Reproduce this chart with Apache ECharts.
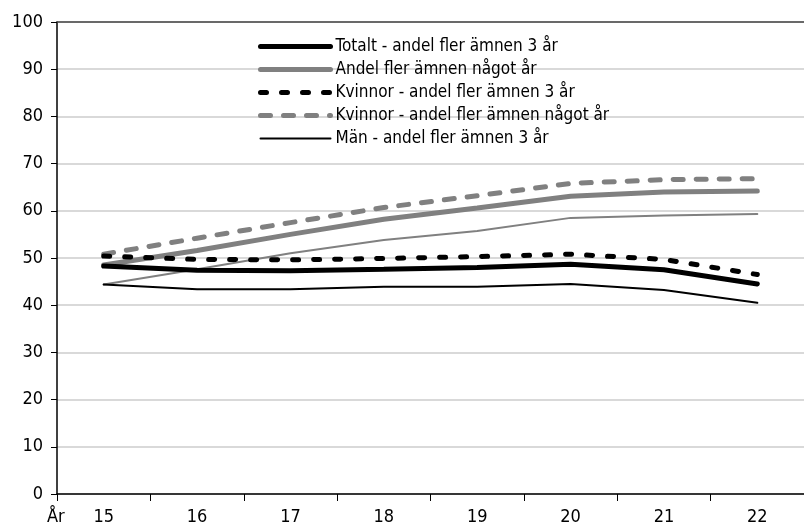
<!DOCTYPE html>
<html>
<head>
<meta charset="utf-8">
<script src="https://cdn.jsdelivr.net/npm/echarts@6/dist/echarts.min.js"></script>
<style>html,body{margin:0;padding:0;background:#fff}#c{width:804px;height:531px}</style>
</head>
<body>
<div id="c"></div>
<script>
var categories = ['15','16','17','18','19','20','21','22'];
var totalt3 = [48.3, 47.4, 47.3, 47.6, 48.0, 48.7, 47.5, 44.5];
var andelNagot = [48.5, 51.6, 55.0, 58.2, 60.6, 63.1, 64.0, 64.2];
var kvinnor3 = [50.4, 49.7, 49.6, 49.9, 50.3, 50.8, 49.7, 46.5];
var kvinnorNagot = [50.8, 54.2, 57.5, 60.7, 63.2, 65.8, 66.6, 66.8];
var man3 = [44.4, 43.4, 43.4, 43.9, 43.9, 44.5, 43.2, 40.5];
var manNagot = [44.4, 47.6, 51.0, 53.8, 55.7, 58.5, 59.0, 59.3];
var names = ['Totalt - andel fler ämnen 3 år','Andel fler ämnen något år','Kvinnor - andel fler ämnen 3 år','Kvinnor - andel fler ämnen något år','Män - andel fler ämnen 3 år','Män - andel fler ämnen något år'];

var FONT = '"DejaVu Sans Condensed","Liberation Sans Narrow",sans-serif';
var styles = {};
styles[names[0]] = {color:'#000', width:5, type:'solid'};
styles[names[1]] = {color:'#808080', width:5, type:'solid'};
styles[names[2]] = {color:'#000', width:5, type:[6,15]};
styles[names[3]] = {color:'#808080', width:5, type:[10,13]};
styles[names[4]] = {color:'#000', width:2, type:'solid'};
styles[names[5]] = {color:'#808080', width:2, type:'solid'};

var chart = echarts.init(document.getElementById('c'), null, {renderer:'canvas'});
function s(name, data, z){
  var st = styles[name];
  return {name:name, type:'line', data:data, symbol:'none', showSymbol:false, z:z,
    lineStyle:{color:st.color, width:st.width, type:st.type, cap:'round'}, itemStyle:{color:st.color}, animation:false};
}
var legendData = names.slice(0,5).map(function(n){
  var st = styles[n];
  return {name:n, itemStyle:{opacity:0}, lineStyle:{color:st.color, width:st.width, type:st.type, cap:'round', opacity:1}};
});
chart.setOption({
  animation:false,
  grid:{left:57, right:-7, top:22, bottom:37},
  legend:{
    orient:'vertical', left:253, top:33, itemWidth:70, itemHeight:12, itemGap:6,
    data:legendData,
    textStyle:{fontFamily:FONT, fontSize:17, color:'#000'},
    backgroundColor:'rgba(255,255,255,0)'
  },
  xAxis:[{
    type:'category', data:categories, boundaryGap:true,
    axisLine:{lineStyle:{color:'#000', width:1.5}},
    axisTick:{show:true, length:7, lineStyle:{color:'#000', width:1}},
    axisLabel:{fontFamily:FONT, fontSize:18, color:'#000', margin:14},
    splitLine:{show:false}
  },{
    type:'category', data:categories, position:'top', boundaryGap:true,
    axisLine:{show:true, lineStyle:{color:'#444', width:1.5}},
    axisTick:{show:false}, axisLabel:{show:false}
  }],
  yAxis:{
    type:'value', min:0, max:100, interval:10,
    axisLine:{show:true, lineStyle:{color:'#000', width:1.5}},
    axisTick:{show:true, length:6, lineStyle:{color:'#000'}},
    axisLabel:{fontFamily:FONT, fontSize:18, color:'#000', margin:14},
    splitLine:{lineStyle:{color:'#d9d9d9', width:2}}
  },
  graphic:[{type:'text', left:47, top:508, style:{text:'År', fontFamily:FONT, fontSize:18, fill:'#000'}}],
  series:[
    s(names[5], manNagot, 2),
    s(names[1], andelNagot, 3),
    s(names[3], kvinnorNagot, 3),
    s(names[4], man3, 4),
    s(names[0], totalt3, 5),
    s(names[2], kvinnor3, 5)
  ]
});
</script>
</body>
</html>
